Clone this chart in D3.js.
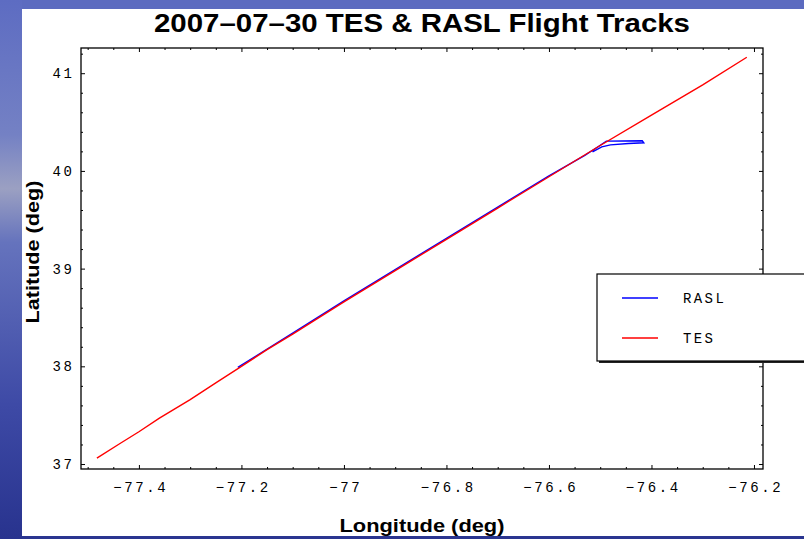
<!DOCTYPE html>
<html>
<head>
<meta charset="utf-8">
<script src="https://cdn.jsdelivr.net/npm/d3@7"></script>
<style>
  body { margin: 0; padding: 0; background: #fff; }
  svg { display: block; }
</style>
</head>
<body>
<svg id="chart" width="804" height="539"></svg>
<script>
// flight tracks (lon, lat)
const tesLon = [-77.482, -77.44, -77.40, -77.36, -77.30, -77.25, -77.20, -77.15, -77.10, -77.00, -76.90, -76.80, -76.70, -76.60, -76.50, -76.40, -76.30, -76.214];
const tesLat = [37.061, 37.20, 37.33, 37.47, 37.66, 37.83, 38.00, 38.17, 38.33, 38.66, 38.98, 39.30, 39.62, 39.94, 40.26, 40.57, 40.88, 41.163];

const raslLon = [-77.207, -77.10, -77.00, -76.90, -76.80, -76.70, -76.60, -76.53, -76.505, -76.488, -76.418, -76.415, -76.445, -76.480, -76.497, -76.515];
const raslLat = [37.99, 38.34, 38.67, 38.99, 39.31, 39.63, 39.95, 40.16, 40.245, 40.305, 40.309, 40.288, 40.280, 40.266, 40.246, 40.195];

const xTicks = [-77.4, -77.2, -77, -76.8, -76.6, -76.4, -76.2];
const yTicks = [37, 38, 39, 40, 41];

const series = [
  { name: 'RASL', color: '#0000ff' },
  { name: 'TES', color: '#ff0000' }
];

const svg = d3.select('#chart');
const W = 804, H = 539;

// slide background
const defs = svg.append('defs');
const grad = defs.append('linearGradient').attr('id', 'slide').attr('x1', 0).attr('y1', 0).attr('x2', 0).attr('y2', 1);
grad.append('stop').attr('offset', '0%').attr('stop-color', '#5d6cc2');
grad.append('stop').attr('offset', '25%').attr('stop-color', '#7481c4');
grad.append('stop').attr('offset', '35%').attr('stop-color', '#9ba0c2');
grad.append('stop').attr('offset', '45%').attr('stop-color', '#6573bd');
grad.append('stop').attr('offset', '75%').attr('stop-color', '#3e4aa6');
grad.append('stop').attr('offset', '100%').attr('stop-color', '#28338e');
svg.append('rect').attr('width', W).attr('height', H).attr('fill', 'url(#slide)');
svg.append('rect').attr('x', 22).attr('y', 0).attr('width', W - 22).attr('height', 9).attr('fill', '#5c6bc0');
svg.append('rect').attr('x', 22).attr('y', 536).attr('width', W - 22).attr('height', 3).attr('fill', '#2a3590');
svg.append('rect').attr('x', 22).attr('y', 9).attr('width', W - 22).attr('height', 527).attr('fill', '#fff');

const plot = { left: 81, right: 763, top: 48, bottom: 469 };

const x = d3.scaleLinear().domain([-77.513, -76.1824]).range([plot.left, plot.right]);
const y = d3.scaleLinear().domain([36.949, 41.258]).range([plot.bottom, plot.top]);

const monoFont = '"Liberation Mono", "DejaVu Sans Mono", monospace';

// minor ticks
const xMinor = d3.range(-77.5, -76.15, 0.05).filter(v => !xTicks.some(t => Math.abs(t - v) < 1e-6));
const yMinor = d3.range(37, 41.21, 0.2).filter(v => !yTicks.some(t => Math.abs(t - v) < 1e-6));

function minorAxis(axisFn, scale, vals, tx, ty) {
  const g = svg.append('g')
    .attr('transform', 'translate(' + tx + ',' + ty + ')')
    .call(axisFn(scale).tickValues(vals).tickSizeInner(-2).tickSizeOuter(0).tickFormat(''));
  g.select('.domain').remove();
  g.selectAll('.tick line').attr('stroke', '#000');
}
minorAxis(d3.axisBottom, x, xMinor, 0, plot.bottom);
minorAxis(d3.axisTop, x, xMinor, 0, plot.top);
minorAxis(d3.axisLeft, y, yMinor, plot.left, 0);
minorAxis(d3.axisRight, y, yMinor, plot.right, 0);

// major ticks
const xAxis = svg.append('g')
  .attr('class', 'x axis')
  .attr('transform', 'translate(0,' + plot.bottom + ')')
  .call(d3.axisBottom(x).tickValues(xTicks).tickSizeInner(-4).tickSizeOuter(0).tickPadding(13).tickFormat(d3.format('')));
xAxis.select('.domain').remove();
xAxis.selectAll('.tick line').attr('stroke', '#000');
xAxis.selectAll('.tick text')
  .attr('font-family', monoFont).attr('font-size', 14).attr('fill', '#000')
  .attr('letter-spacing', '2.6px').attr('dx', '1.3px');

const yAxis = svg.append('g')
  .attr('class', 'y axis')
  .attr('transform', 'translate(' + plot.left + ',0)')
  .call(d3.axisLeft(y).tickValues(yTicks).tickSizeInner(-4).tickSizeOuter(0).tickPadding(9).tickFormat(d3.format('')));
yAxis.select('.domain').remove();
yAxis.selectAll('.tick line').attr('stroke', '#000');
yAxis.selectAll('.tick text')
  .attr('font-family', monoFont).attr('font-size', 14).attr('fill', '#000')
  .attr('letter-spacing', '2.6px').attr('dx', '2.6px');

const xTop = svg.append('g')
  .attr('transform', 'translate(0,' + plot.top + ')')
  .call(d3.axisTop(x).tickValues(xTicks).tickSizeInner(-4).tickSizeOuter(0).tickFormat(''));
xTop.select('.domain').remove();
xTop.selectAll('.tick line').attr('stroke', '#000');

const yRight = svg.append('g')
  .attr('transform', 'translate(' + plot.right + ',0)')
  .call(d3.axisRight(y).tickValues(yTicks).tickSizeInner(-4).tickSizeOuter(0).tickFormat(''));
yRight.select('.domain').remove();
yRight.selectAll('.tick line').attr('stroke', '#000');

// frame
svg.append('rect')
  .attr('x', plot.left).attr('y', plot.top)
  .attr('width', plot.right - plot.left).attr('height', plot.bottom - plot.top)
  .attr('fill', 'none').attr('stroke', '#000').attr('stroke-width', 1.3);

// tracks
const line = d3.line().x(d => x(d[0])).y(d => y(d[1]));
const raslData = raslLon.map((v, i) => [v, raslLat[i]]);
const tesData = tesLon.map((v, i) => [v, tesLat[i]]);

svg.append('path').datum(raslData)
  .attr('d', line).attr('fill', 'none')
  .attr('stroke', series[0].color).attr('stroke-width', 1.4);
svg.append('path').datum(tesData)
  .attr('d', line).attr('fill', 'none')
  .attr('stroke', series[1].color).attr('stroke-width', 1.4);

// legend
const lg = svg.append('g').attr('class', 'legend').attr('transform', 'translate(597,274)');
lg.append('rect').attr('x', 2).attr('y', 2).attr('width', 230).attr('height', 87).attr('fill', '#222');
lg.append('rect').attr('width', 230).attr('height', 87).attr('fill', '#fff').attr('stroke', '#000').attr('stroke-width', 1.2);
const items = lg.selectAll('g.item').data(series).enter().append('g')
  .attr('class', 'item')
  .attr('transform', (d, i) => 'translate(0,' + (24 + i * 40) + ')');
items.append('line').attr('x1', 25).attr('x2', 61).attr('y1', 0).attr('y2', 0)
  .attr('stroke', d => d.color).attr('stroke-width', 1.4);
items.append('text').text(d => d.name)
  .attr('x', 86).attr('y', 5)
  .attr('font-family', monoFont).attr('font-size', 14).attr('letter-spacing', '2.4px')
  .attr('fill', '#000');

// labels
svg.append('text')
  .text('2007\u201307\u201330 TES & RASL Flight Tracks')
  .attr('x', 422).attr('y', 32)
  .attr('text-anchor', 'middle')
  .attr('font-family', '"Liberation Sans", Arial, sans-serif')
  .attr('font-weight', 'bold').attr('font-size', 26)
  .attr('textLength', 536).attr('lengthAdjust', 'spacingAndGlyphs');

svg.append('text')
  .text('Longitude (deg)')
  .attr('x', 422).attr('y', 532)
  .attr('text-anchor', 'middle')
  .attr('font-family', '"Liberation Sans", Arial, sans-serif')
  .attr('font-weight', 'bold').attr('font-size', 19)
  .attr('textLength', 165).attr('lengthAdjust', 'spacingAndGlyphs');

svg.append('text')
  .text('Latitude (deg)')
  .attr('transform', 'translate(39,252) rotate(-90)')
  .attr('text-anchor', 'middle')
  .attr('font-family', '"Liberation Sans", Arial, sans-serif')
  .attr('font-weight', 'bold').attr('font-size', 19)
  .attr('textLength', 143).attr('lengthAdjust', 'spacingAndGlyphs');
</script>
</body>
</html>
